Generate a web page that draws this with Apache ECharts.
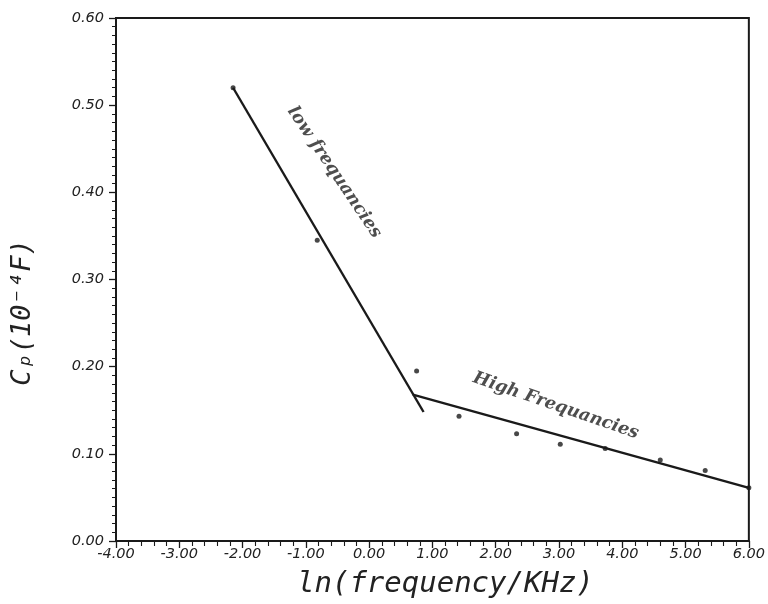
<!DOCTYPE html>
<html>
<head>
<meta charset="utf-8">
<script src="https://cdn.jsdelivr.net/npm/echarts@6/dist/echarts.min.js"></script>
<style>
  html, body { margin: 0; padding: 0; background: #fff; }
  #chart { width: 768px; height: 604px; }
</style>
</head>
<body>
<div id="chart"></div>
<script>
// Measured points: ln(f / kHz) against parallel capacitance (10^-4 F)
const lnFreq = [-2.15, -0.82, 0.75, 1.42, 2.33, 3.02, 3.73, 4.60, 5.31, 6.00];
const capacitance = [0.52, 0.345, 0.195, 0.143, 0.123, 0.111, 0.106, 0.093, 0.081, 0.061];

// Straight-line fits for the two frequency regimes
const lowFitX = [-2.15, 0.86];
const lowFitY = [0.52, 0.148];
const highFitX = [0.69, 6.00];
const highFitY = [0.168, 0.061];

// Regime annotations written along the fits
const noteText = ['low frequancies', 'High Frequancies'];
const noteX = [-0.55, 2.95];
const noteY = [0.423, 0.155];
const noteAngle = [-56, -19];

const xMin = -4, xMax = 6, xStep = 1;
const yMin = 0, yMax = 0.6, yStep = 0.1;

const zip = (xs, ys) => xs.map((x, i) => [x, ys[i]]);
const ink = '#1a1a1a';
const tickFont = { fontFamily: 'DejaVu Sans', fontStyle: 'italic', fontSize: 14.5, color: '#222' };
const nameFont = { fontFamily: 'DejaVu Sans Mono', fontStyle: 'italic', fontSize: 27, color: '#222' };

const chart = echarts.init(document.getElementById('chart'), null, { renderer: 'canvas' });
chart.setOption({
  backgroundColor: '#ffffff',
  animation: false,
  grid: {
    left: 116, right: 14, top: 18, bottom: 58,
    show: true, borderColor: ink, borderWidth: 2, backgroundColor: 'transparent'
  },
  xAxis: {
    type: 'value', min: xMin, max: xMax, interval: xStep,
    name: 'ln(frequency/KHz)', nameLocation: 'middle', nameGap: 29,
    nameTextStyle: Object.assign({}, nameFont, { fontSize: 29, padding: [0, 0, 0, 26] }),
    axisLine: { show: true, onZero: false, lineStyle: { color: ink, width: 2 } },
    axisTick: { show: true, inside: false, length: 7, lineStyle: { color: ink, width: 1.3 } },
    minorTick: { show: true, splitNumber: 5, length: 5, lineStyle: { color: ink, width: 1.1 } },
    splitLine: { show: false },
    axisLabel: Object.assign({ margin: 6, formatter: v => v.toFixed(2) }, tickFont)
  },
  yAxis: {
    type: 'value', min: yMin, max: yMax, interval: yStep,
    name: 'Cₚ(10⁻⁴F)', nameLocation: 'middle', nameGap: 80, nameRotate: 90,
    nameTextStyle: Object.assign({ padding: [0, 66, 0, 0] }, nameFont),
    axisLine: { show: true, onZero: false, lineStyle: { color: ink, width: 2 } },
    axisTick: { show: true, inside: false, length: 7, lineStyle: { color: ink, width: 1.3 } },
    minorTick: { show: true, splitNumber: 10, length: 4, lineStyle: { color: ink, width: 1 } },
    splitLine: { show: false },
    axisLabel: Object.assign({ margin: 12, formatter: v => v.toFixed(2) }, tickFont)
  },
  series: [
    {
      name: 'low fit', type: 'line', data: zip(lowFitX, lowFitY),
      symbol: 'none', lineStyle: { color: ink, width: 2.4 }, silent: true
    },
    {
      name: 'high fit', type: 'line', data: zip(highFitX, highFitY),
      symbol: 'none', lineStyle: { color: ink, width: 2.4 }, silent: true
    },
    {
      name: 'measured', type: 'scatter', data: zip(lnFreq, capacitance),
      symbol: 'circle', symbolSize: 5, itemStyle: { color: ink }
    },
    {
      name: 'notes', type: 'scatter', symbolSize: 0,
      data: noteText.map((t, i) => ({
        value: [noteX[i], noteY[i]],
        label: {
          show: true, position: 'inside', formatter: t, rotate: noteAngle[i],
          fontFamily: 'DejaVu Serif', fontStyle: 'italic', fontWeight: 'bold',
          fontSize: 17.5, color: '#222'
        }
      }))
    }
  ]
});
</script>
</body>
</html>
